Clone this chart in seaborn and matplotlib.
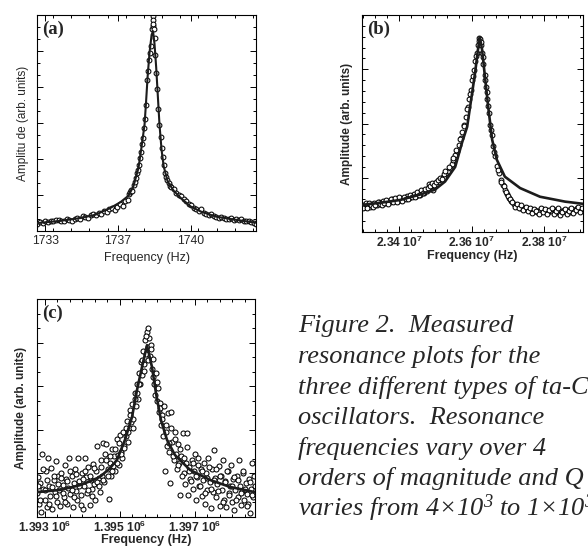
import numpy as np
import matplotlib
matplotlib.use("Agg")
import matplotlib.pyplot as plt
from matplotlib.ticker import MultipleLocator, AutoMinorLocator
import seaborn as sns

sns.set_style("ticks")
plt.rcParams['font.family'] = ['Liberation Sans', 'DejaVu Sans']
plt.rcParams['mathtext.fontset'] = 'custom'
plt.rcParams['mathtext.rm'] = 'Liberation Serif:italic'
plt.rcParams['mathtext.it'] = 'Liberation Serif:italic'
plt.rcParams['mathtext.bf'] = 'Liberation Sans:bold'

# ---------------- Panel (a) : frequency in Hz ----------------
a_fit_f = [1732.61, 1733.72, 1734.69, 1735.41, 1736.14, 1736.62, 1737.01, 1737.25, 1737.49,
           1737.64, 1737.78, 1737.85, 1737.93, 1738.02, 1738.12, 1738.19, 1738.26, 1738.34,
           1738.41, 1738.50, 1738.60, 1738.70, 1738.89, 1739.18, 1739.52, 1740.00, 1740.49,
           1741.21, 1742.18, 1743.14]
a_fit_amp = [0.22, 0.28, 0.36, 0.45, 0.64, 0.80, 0.98, 1.25, 1.75, 2.35, 2.95, 3.55, 4.30,
             4.95, 5.45, 5.55, 5.20, 4.55, 3.85, 2.95, 2.25, 1.80, 1.38, 1.12, 0.92, 0.68,
             0.54, 0.40, 0.31, 0.23]
a_pts_f = [1732.62, 1732.75, 1732.88, 1733.0, 1733.13, 1733.26, 1733.39, 1733.52, 1733.65,
           1733.78, 1733.9, 1734.03, 1734.16, 1734.29, 1734.42, 1734.55, 1734.68, 1734.8,
           1734.93, 1735.06, 1735.19, 1735.32, 1735.45, 1735.58, 1735.7, 1735.83, 1735.96,
           1736.09, 1736.22, 1736.35, 1736.48, 1736.6, 1736.73, 1736.86, 1736.98,
           1737.05, 1737.1, 1737.15, 1737.2, 1737.25, 1737.3, 1737.35, 1737.4, 1737.45,
           1737.5, 1737.55, 1737.6, 1737.65, 1737.7, 1737.75, 1737.8, 1737.85, 1737.9,
           1737.95, 1738.0, 1738.05, 1738.1, 1738.15, 1738.19, 1738.17, 1738.18, 1738.2,
           1738.22, 1738.26, 1738.3, 1738.35, 1738.4, 1738.45, 1738.5, 1738.55, 1738.6,
           1738.65, 1738.7, 1738.76, 1738.82, 1738.88, 1738.94, 1739.0,
           1739.06, 1739.18, 1739.3, 1739.42, 1739.54, 1739.66, 1739.78, 1739.9, 1740.02,
           1740.14, 1740.26, 1740.38, 1740.5, 1740.62, 1740.74, 1740.86, 1740.98, 1741.1,
           1741.22, 1741.34, 1741.46, 1741.58, 1741.7, 1741.82, 1741.94, 1742.06, 1742.18,
           1742.3, 1742.42, 1742.54, 1742.66, 1742.78, 1742.9, 1743.02, 1743.12]
a_pts_amp = [0.20, 0.24, 0.23, 0.27, 0.26, 0.29, 0.28, 0.31, 0.30, 0.27, 0.29, 0.32, 0.30,
             0.29, 0.33, 0.36, 0.34, 0.41, 0.38, 0.37, 0.45, 0.47, 0.44, 0.50, 0.48, 0.55,
             0.52, 0.60, 0.63, 0.58, 0.66, 0.74, 0.70, 0.82, 0.86,
             1.02, 1.08, 1.15, 1.12, 1.28, 1.36, 1.48, 1.62, 1.70, 1.82, 2.02, 2.20, 2.42,
             2.58, 2.86, 3.12, 3.50, 4.20, 4.45, 4.75, 4.95, 5.15, 5.60, 5.70, 5.97, 5.85,
             5.75,
             5.60, 5.35, 4.90, 4.40, 3.95, 3.40, 2.95, 2.60, 2.30, 2.05, 1.82, 1.62, 1.50,
             1.42, 1.33, 1.26,
             1.22, 1.16, 1.05, 1.00, 0.96, 0.88, 0.84, 0.74, 0.72, 0.64, 0.60, 0.56, 0.62,
             0.50, 0.47, 0.44, 0.46, 0.41, 0.40, 0.37, 0.38, 0.35, 0.34, 0.33, 0.35, 0.31,
             0.33, 0.30, 0.32, 0.29, 0.27, 0.28, 0.24, 0.22, 0.20]
a_ticks = [1733.0, 1736.5, 1740.0]
a_ticklabels = ["1733", "1737", "1740"]

# ---------------- Panel (b) : frequency in MHz ----------------
b_fit_f = [23.298, 23.35, 23.403, 23.458, 23.499, 23.527, 23.555, 23.574, 23.588, 23.599,
           23.61, 23.618, 23.623, 23.629, 23.637, 23.646, 23.657, 23.670, 23.692, 23.734,
           23.789, 23.858, 23.907]
b_fit_amp = [0.50, 0.54, 0.59, 0.69, 0.78, 0.93, 1.20, 1.65, 1.94, 2.44, 2.94, 3.37, 3.59,
             3.37, 2.87, 2.31, 1.70, 1.33, 1.02, 0.81, 0.65, 0.56, 0.52]
b_pts_f = [23.300, 23.305, 23.31, 23.315, 23.32, 23.326, 23.332, 23.338, 23.344, 23.35,
           23.356, 23.362, 23.368, 23.374, 23.38, 23.386, 23.392, 23.398, 23.404, 23.41,
           23.416, 23.422, 23.428, 23.434, 23.44, 23.446, 23.452, 23.458, 23.464, 23.47,
           23.476, 23.482, 23.488, 23.494, 23.5, 23.505, 23.51, 23.515, 23.52, 23.525,
           23.53, 23.535, 23.54, 23.545, 23.55, 23.555, 23.56, 23.565, 23.57, 23.575,
           23.58, 23.585, 23.59, 23.594, 23.598, 23.602, 23.606, 23.61, 23.614, 23.618,
           23.621, 23.624, 23.627, 23.63, 23.633, 23.636, 23.64, 23.644, 23.648, 23.652,
           23.656, 23.66, 23.665, 23.67, 23.675, 23.68, 23.686, 23.692, 23.698, 23.704,
           23.71, 23.716, 23.722, 23.728, 23.734, 23.74, 23.746, 23.752, 23.758, 23.764,
           23.77, 23.776, 23.782, 23.788, 23.794, 23.8, 23.806, 23.812, 23.818, 23.824,
           23.83, 23.836, 23.842, 23.848, 23.854, 23.86, 23.866, 23.872, 23.878, 23.884,
           23.89, 23.896, 23.902,
           23.302, 23.308, 23.313, 23.318, 23.323, 23.329, 23.335, 23.341, 23.347, 23.353,
           23.359, 23.365, 23.371, 23.377, 23.383, 23.389, 23.395, 23.401, 23.407, 23.413,
           23.419, 23.425, 23.431, 23.437, 23.443, 23.449, 23.455, 23.461, 23.467, 23.473,
           23.479, 23.485, 23.491, 23.497, 23.503, 23.508, 23.513, 23.518, 23.523,
           23.528, 23.538, 23.548, 23.558, 23.568, 23.578, 23.588, 23.596, 23.604, 23.612,
           23.62, 23.626, 23.632, 23.638, 23.642, 23.646, 23.654, 23.662, 23.672, 23.682,
           23.69, 23.695, 23.701, 23.707, 23.713, 23.719, 23.725, 23.731, 23.737, 23.743,
           23.749, 23.755, 23.761, 23.767, 23.773, 23.779, 23.785, 23.791, 23.797, 23.803,
           23.809, 23.815, 23.821, 23.827, 23.833, 23.839, 23.845, 23.851, 23.857, 23.863,
           23.869, 23.875, 23.881, 23.887, 23.893, 23.899, 23.905]
b_pts_amp = [0.50, 0.47, 0.52, 0.49, 0.46, 0.51, 0.53, 0.50, 0.55, 0.52, 0.57, 0.54, 0.58,
             0.55, 0.60, 0.57, 0.61, 0.58, 0.62, 0.60, 0.63, 0.66, 0.62, 0.67, 0.70, 0.66,
             0.72, 0.69, 0.74, 0.71, 0.76, 0.88, 0.80, 0.78, 0.84, 0.88, 0.92, 0.96, 1.02,
             1.00, 1.08, 1.12, 1.18, 1.25, 1.33, 1.42, 1.50, 1.60, 1.74, 1.85, 1.98, 2.12,
             2.30, 2.45, 2.62, 2.80, 2.98, 3.15, 3.30, 3.45, 3.58, 3.55, 3.45, 3.30, 3.10,
             2.90, 2.68, 2.45, 2.20, 1.98, 1.78, 1.58, 1.40, 1.22, 1.08, 0.96, 0.86, 0.78,
             0.70, 0.62, 0.58, 0.52, 0.48, 0.50, 0.45, 0.47, 0.43, 0.44, 0.40, 0.42, 0.39,
             0.41, 0.37, 0.40, 0.42, 0.38, 0.41, 0.36, 0.39, 0.42, 0.37, 0.40, 0.35, 0.38,
             0.41, 0.36, 0.40, 0.37, 0.42, 0.39, 0.44, 0.40, 0.43,
             0.45, 0.54, 0.44, 0.53, 0.50, 0.47, 0.49, 0.56, 0.51, 0.49, 0.53, 0.59, 0.52,
             0.60, 0.55, 0.62, 0.56, 0.64, 0.58, 0.65, 0.61, 0.60, 0.69, 0.64, 0.65, 0.73,
             0.68, 0.77, 0.72, 0.80, 0.82, 0.84, 0.90, 0.86, 0.92, 0.96, 1.00, 0.98, 1.06,
             1.12, 1.20, 1.36, 1.52, 1.72, 1.95, 2.26, 2.55, 2.88, 3.25, 3.52, 3.50, 3.22,
             2.80, 2.58, 2.32, 1.88, 1.48, 1.15, 0.92,
             0.84, 0.74, 0.66, 0.60, 0.55, 0.47, 0.52, 0.44, 0.49, 0.41, 0.46, 0.38, 0.44,
             0.35, 0.43, 0.39, 0.33, 0.45, 0.36, 0.43, 0.34, 0.40, 0.45, 0.33, 0.38, 0.44,
             0.32, 0.36, 0.43, 0.34, 0.38, 0.45, 0.35, 0.40, 0.47, 0.37, 0.45]
b_ticks = [23.4, 23.6, 23.8]
b_ticklabels = [r"$\mathbf{2.34\ 10^{7}}$", r"$\mathbf{2.36\ 10^{7}}$", r"$\mathbf{2.38\ 10^{7}}$"]

# ---------------- Panel (c) : frequency in kHz ----------------
c_fit_f = [1392.787, 1393.4, 1393.933, 1394.2, 1394.467, 1394.733, 1394.92, 1395.133,
           1395.32, 1395.453, 1395.587, 1395.72, 1395.853, 1395.96, 1396.093, 1396.253,
           1396.467, 1396.867, 1397.4, 1397.933, 1398.6]
c_fit_amp = [0.57, 0.62, 0.73, 0.82, 0.92, 1.12, 1.31, 1.77, 2.29, 2.91, 3.44, 3.94, 3.44,
             2.84, 2.22, 1.77, 1.42, 1.08, 0.85, 0.69, 0.57]
c_pts_f = [1392.80, 1392.82, 1392.85, 1392.88, 1392.90, 1392.93, 1392.96, 1392.99, 1393.02, 1393.05,
           1393.08, 1393.11, 1393.14, 1393.17, 1393.20, 1393.23, 1393.26, 1393.29, 1393.32, 1393.35,
           1393.38, 1393.41, 1393.44, 1393.47, 1393.50, 1393.53, 1393.56, 1393.59, 1393.62, 1393.65,
           1393.68, 1393.71, 1393.74, 1393.77, 1393.80, 1393.83, 1393.86, 1393.89, 1393.92, 1393.95,
           1393.98, 1394.01, 1394.04, 1394.07, 1394.10, 1394.13, 1394.16, 1394.19, 1394.22, 1394.25,
           1394.28, 1394.31, 1394.34, 1394.37, 1394.40, 1394.43, 1394.46, 1394.49, 1394.52, 1394.55,
           1394.58, 1394.61, 1394.64, 1394.67, 1394.70, 1394.73, 1394.76, 1394.79, 1394.82, 1394.85,
           1394.88, 1394.91, 1394.94, 1394.97, 1395.00, 1395.03, 1395.06, 1395.09, 1395.12, 1395.15,
           1395.18, 1395.21, 1395.24, 1395.27, 1395.30, 1395.33, 1395.36, 1395.39, 1395.42, 1395.45,
           1395.47, 1395.50, 1395.53, 1395.56, 1395.59, 1395.62, 1395.65, 1395.68, 1395.70, 1395.72,
           1395.74, 1395.76, 1395.78, 1395.80, 1395.83, 1395.86, 1395.89, 1395.92, 1395.95, 1395.98,
           1396.01, 1396.04, 1396.07, 1396.10, 1396.13, 1396.16, 1396.19, 1396.22, 1396.25, 1396.28,
           1396.31, 1396.34, 1396.37, 1396.40, 1396.43, 1396.46, 1396.49, 1396.52, 1396.55, 1396.58,
           1396.61, 1396.64, 1396.67, 1396.70, 1396.73, 1396.76, 1396.79, 1396.82, 1396.85, 1396.88,
           1396.91, 1396.94, 1396.97, 1397.00, 1397.03, 1397.06, 1397.09, 1397.12, 1397.15, 1397.18,
           1397.21, 1397.24, 1397.27, 1397.30, 1397.33, 1397.36, 1397.39, 1397.42, 1397.45, 1397.48,
           1397.51, 1397.54, 1397.57, 1397.60, 1397.63, 1397.66, 1397.69, 1397.72, 1397.75, 1397.78,
           1397.81, 1397.84, 1397.87, 1397.90, 1397.93, 1397.96, 1397.99, 1398.02, 1398.05, 1398.08,
           1398.11, 1398.14, 1398.17, 1398.20, 1398.23, 1398.26, 1398.29, 1398.32, 1398.35, 1398.38,
           1398.41, 1398.44, 1398.47, 1398.50, 1398.53, 1398.56, 1398.59,
           1392.815, 1392.875, 1392.935, 1392.995, 1393.055, 1393.115, 1393.175, 1393.235, 1393.295, 1393.355,
           1393.415, 1393.475, 1393.535, 1393.595, 1393.655, 1393.715, 1393.775, 1393.835, 1393.895, 1393.955,
           1394.015, 1394.075, 1394.135, 1394.195, 1394.255, 1394.315, 1394.375, 1394.435, 1394.495, 1394.555,
           1394.615, 1394.675, 1394.735, 1394.795, 1394.855, 1394.915, 1394.975, 1395.035, 1395.095, 1395.155,
           1395.215, 1395.275, 1395.335, 1395.395, 1395.455, 1395.515, 1395.575, 1395.635, 1395.695, 1395.755,
           1395.815, 1395.875, 1395.935, 1395.995, 1396.055, 1396.115, 1396.175, 1396.235, 1396.295, 1396.355,
           1396.415, 1396.475, 1396.535, 1396.595, 1396.655, 1396.715, 1396.775, 1396.835, 1396.895, 1396.955,
           1397.015, 1397.075, 1397.135, 1397.195, 1397.255, 1397.315, 1397.375, 1397.435, 1397.495, 1397.555,
           1397.615, 1397.675, 1397.735, 1397.795, 1397.855, 1397.915, 1397.975, 1398.035, 1398.095, 1398.155,
           1398.215, 1398.275, 1398.335, 1398.395, 1398.455, 1398.515, 1398.575]
c_pts_amp = [0.55, 0.92, 0.30, 0.78, 0.12, 1.45, 0.64, 0.40, 1.05, 0.22,
             1.35, 0.70, 0.48, 1.12, 0.18, 0.85, 0.58, 1.28, 0.35, 0.95,
             0.62, 0.26, 1.02, 0.74, 0.45, 1.20, 0.88, 0.30, 0.66, 1.35,
             0.52, 0.95, 0.22, 0.78, 1.10, 0.60, 0.38, 1.35, 0.82, 0.50,
             1.00, 0.18, 0.70, 1.35, 0.92, 0.55, 1.15, 0.28, 0.86, 0.64,
             1.22, 0.75, 0.40, 1.05, 1.62, 0.90, 0.58, 1.30, 0.95, 1.70,
             0.80, 1.45, 1.68, 1.10, 0.42, 1.25, 0.95, 1.55, 1.18, 1.40,
             1.05, 1.78, 1.42, 1.20, 1.88, 1.50, 1.35, 1.95, 1.62, 1.85,
             2.20, 1.72, 2.05, 2.45, 2.18, 2.60, 2.25, 2.85, 2.55, 3.05,
             2.70, 3.30, 3.05, 3.55, 3.25, 3.80, 3.50, 4.05, 3.75, 4.25,
             3.90, 4.33, 4.10, 3.70, 3.95, 3.40, 3.62, 3.05, 3.30, 2.65,
             2.95, 2.40, 2.62, 2.10, 2.35, 1.85, 1.05, 2.10, 1.62, 2.38,
             1.50, 0.78, 2.40, 1.72, 1.30, 1.95, 1.45, 1.10, 1.68, 1.25,
             0.50, 1.40, 1.93, 1.02, 0.75, 1.25, 1.93, 0.50, 1.15, 0.88,
             1.30, 0.65, 1.05, 1.45, 0.38, 0.92, 1.20, 0.70, 1.10, 0.48,
             0.85, 1.25, 0.30, 1.02, 0.62, 1.35, 0.80, 0.20, 1.10, 0.58,
             1.54, 0.90, 0.45, 0.75, 1.18, 0.25, 0.95, 0.62, 1.30, 0.40,
             0.82, 0.23, 1.05, 0.55, 0.70, 1.20, 0.35, 0.88, 0.15, 0.62,
             0.95, 0.45, 1.31, 0.72, 0.28, 0.60, 1.02, 0.40, 0.78, 0.52,
             0.30, 0.88, 0.09, 0.65, 1.25, 0.45, 0.70,
             0.72, 0.40, 1.10, 0.62, 0.85, 0.30, 0.68, 0.95, 0.48, 0.75,
             0.90, 0.55, 0.35, 0.82, 1.05, 0.62, 0.45, 0.98, 0.70, 0.28,
             0.88, 1.05, 0.62, 0.95, 0.48, 1.12, 0.80, 0.70, 1.15, 0.85,
             1.30, 0.95, 1.40, 1.05, 1.55, 1.25, 1.70, 1.45, 1.58, 2.05,
             1.95, 2.35, 2.05, 2.70, 2.85, 3.05, 3.60, 3.35, 4.15, 3.60,
             3.85, 3.20, 2.80, 3.10, 2.50, 2.25, 2.55, 1.95, 1.70, 2.05,
             1.40, 1.78, 1.20, 1.55, 0.95, 1.35, 1.60, 1.05, 0.82, 1.25,
             0.95, 1.35, 0.70, 1.05, 0.55, 0.90, 1.15, 0.65, 0.85, 1.10,
             0.60, 0.95, 0.35, 0.80, 1.05, 0.50, 0.72, 0.92, 0.40, 0.85,
             0.55, 1.05, 0.65, 0.25, 0.80, 0.50, 0.95]
c_ticks = [1393.0, 1395.0, 1397.0]
c_ticklabels = [r"$\mathbf{1.393\ 10^{6}}$", r"$\mathbf{1.395\ 10^{6}}$", r"$\mathbf{1.397\ 10^{6}}$"]

caption_lines = ["Figure 2.  Measured",
                 "resonance plots for the",
                 "three different types of ta-C",
                 "oscillators.  Resonance",
                 "frequencies vary over 4",
                 "orders of magnitude and Q",
                 "varies from 4\u00d710$^{3}$ to 1\u00d710$^{3}$"]

# ---------------- Figure ----------------
W, H = 588, 546
fig = plt.figure(figsize=(W / 100, H / 100), dpi=100)
fig.patch.set_facecolor("white")


def px_axes(l, t, r, b):
    return fig.add_axes([l / W, (H - b) / H, (r - l) / W, (b - t) / H])


ax_a = px_axes(37, 15, 256, 231)
ax_b = px_axes(362, 15, 583, 232)
ax_c = px_axes(37, 299, 255, 517)


def draw(ax, pf, pa, ff, fa, ms, lw):
    sns.scatterplot(x=pf, y=pa, ax=ax, marker="o", s=ms, facecolor="white",
                    edgecolor="black", linewidth=0.75, zorder=2, legend=False)
    sns.lineplot(x=ff, y=fa, ax=ax, sort=False, estimator=None, color="#1c1c1c",
                 linewidth=lw, zorder=3)


draw(ax_a, a_pts_f, a_pts_amp, a_fit_f, a_fit_amp, 12, 1.5)
draw(ax_b, b_pts_f, b_pts_amp, b_fit_f, b_fit_amp, 12, 1.9)
draw(ax_c, c_pts_f, c_pts_amp, c_fit_f, c_fit_amp, 13, 1.9)

ax_a.set_xlim(1732.61, 1743.14)
ax_a.set_ylim(0, 6)
ax_b.set_xlim(23.2979, 23.9076)
ax_b.set_ylim(0, 4)
ax_c.set_xlim(1392.787, 1398.6)
ax_c.set_ylim(0, 5)

for ax in (ax_a, ax_b, ax_c):
    for s in ax.spines.values():
        s.set_linewidth(0.8)
        s.set_color("black")
        s.set_visible(True)
    ax.tick_params(which="both", direction="in", top=True, right=True,
                   width=0.7, color="black", labelleft=False, pad=3)
    ax.tick_params(which="major", length=4)
    ax.tick_params(which="minor", length=2)
ax_b.tick_params(axis="x", pad=2)
ax_c.tick_params(axis="x", pad=2)

ax_a.set_xticks(a_ticks)
ax_a.set_xticklabels(a_ticklabels, fontsize=8.7)
ax_a.xaxis.set_minor_locator(MultipleLocator(0.875))
ax_a.yaxis.set_major_locator(MultipleLocator(1))
ax_a.yaxis.set_minor_locator(MultipleLocator(1 / 3))

ax_b.set_xticks(b_ticks)
ax_b.set_xticklabels(b_ticklabels, fontsize=8.7)
ax_b.xaxis.set_minor_locator(AutoMinorLocator(6))
ax_b.yaxis.set_major_locator(MultipleLocator(1))
ax_b.yaxis.set_minor_locator(MultipleLocator(0.2))

ax_c.set_xticks(c_ticks)
ax_c.set_xticklabels(c_ticklabels, fontsize=8.7)
ax_c.xaxis.set_minor_locator(AutoMinorLocator(6))
ax_c.yaxis.set_major_locator(MultipleLocator(1))
ax_c.yaxis.set_minor_locator(MultipleLocator(1 / 3))

ax_a.set_xlabel("Frequency (Hz)", fontsize=9)
ax_a.set_ylabel("Amplitu de (arb. units)", fontsize=8.5)
ax_a.xaxis.set_label_coords(0.5, -0.095)
ax_a.yaxis.set_label_coords(-0.038, 0.5)

for ax in (ax_b, ax_c):
    ax.set_xlabel("Frequency (Hz)", fontsize=9, fontweight="bold")
    ax.set_ylabel("Amplitude (arb. units)", fontsize=8.5, fontweight="bold")
ax_b.xaxis.set_label_coords(0.5, -0.082)
ax_b.yaxis.set_label_coords(-0.04, 0.5)
ax_c.xaxis.set_label_coords(0.5, -0.08)
ax_c.yaxis.set_label_coords(-0.045, 0.5)

for ax, lab in ((ax_a, "(a)"), (ax_b, "(b)"), (ax_c, "(c)")):
    ax.text(0.025, 0.975, lab, transform=ax.transAxes, ha="left", va="top",
            fontsize=13.5, fontweight="bold", family=["Liberation Serif", "DejaVu Serif"],
            zorder=5)

baselines = [332, 363, 394, 424, 455, 485, 516]
for line, yb in zip(caption_lines, baselines):
    fig.text(298 / W, (H - yb) / H, line, ha="left", va="baseline", fontsize=19,
             family=["Liberation Serif", "DejaVu Serif"], style="italic")

fig.savefig("out.png", dpi=100)
